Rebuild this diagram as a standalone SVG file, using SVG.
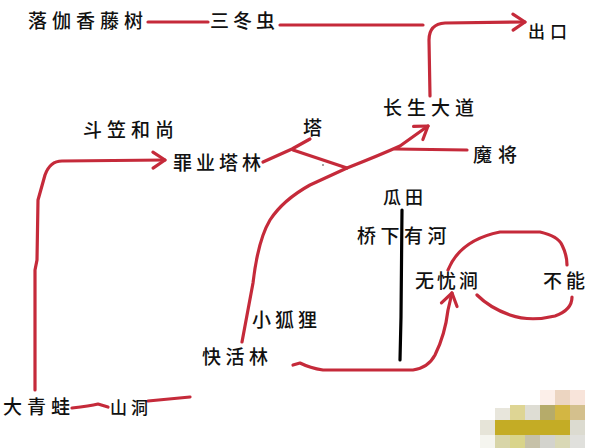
<svg xmlns="http://www.w3.org/2000/svg" width="609" height="448" viewBox="0 0 609 448">
<style>
text{font-family:"Noto Sans CJK SC","Noto Sans CJK JP",sans-serif;font-size:19px;font-weight:500;fill:#111;}
.c path{fill:none;stroke:#c52a3a;stroke-width:3.2;stroke-linecap:round;stroke-linejoin:round;}
.c path.k{stroke:#000;}
.m rect{stroke:none;}
</style>
<defs>
<marker id="ah" markerUnits="userSpaceOnUse" markerWidth="30" markerHeight="30" viewBox="-15 -15 30 30" refX="0" refY="0" orient="auto">
<path d="M-12,-8 L0,0 L-12,8" fill="none" stroke="#c52a3a" stroke-width="3.2" stroke-linecap="round" stroke-linejoin="round"/>
</marker>
</defs>
<g class="c" id="connectors">
<path d="M148,22 L208,22"/>
<path d="M280,25 L423,25"/>
<path d="M430,96 L429,40 Q429,24 445,23 L525,22" marker-end="url(#ah)"/>
<path d="M35,390 L35,270 L37,260 L38,200 L45,175 Q50,161 62,161 L165,160" marker-end="url(#ah)"/>
<path d="M72,408 Q90,406 98,404 L108,407"/>
<path d="M148,401 L190,397"/>
<path d="M242,342 L253,283 Q258,240 270,220 Q283,200 310,185 L347,168 Q380,155 400,146 L428,126" marker-end="url(#ah)"/>
<path d="M467,150 L395,149"/>
<path d="M263,162 L292,149 L310,139"/>
<path d="M293,150 L347,168"/>
<path d="M293,365 L300,363 Q310,368 323,370 L413,370 Q428,368 435,355 Q445,335 448,310 L452,293" marker-end="url(#ah)"/>
<path d="M448,270 Q460,240 500,232 L540,232 Q558,236 562,245 Q567,255 567,265"/>
<path d="M477,295 Q490,308 510,315 Q530,322 555,316 Q572,310 572,297"/>
<path class="k" d="M402,210 L401,317 L400,360"/>
</g>
<circle cx="323" cy="165" r="1" fill="#888"/>
<g id="n-luojia"><text x="28" y="28" letter-spacing="5">落伽香藤树</text></g>
<g id="n-sandong"><text x="210" y="28" letter-spacing="4">三冬虫</text></g>
<g id="n-chukou"><text x="528" y="38" style="font-size:17px" letter-spacing="5">出口</text></g>
<g id="n-changsheng"><text x="383" y="115" letter-spacing="5">长生大道</text></g>
<g id="n-mojiang"><text x="473" y="162" letter-spacing="6">魔将</text></g>
<g id="n-ta"><text x="303" y="135">塔</text></g>
<g id="n-zuiye"><text x="173" y="170" letter-spacing="4">罪业塔林</text></g>
<g id="n-douli"><text x="83" y="137" letter-spacing="5">斗笠和尚</text></g>
<g id="n-guatian"><text x="383" y="204" style="font-size:18px" letter-spacing="4">瓜田</text></g>
<g id="n-qiaoxia"><text x="357" y="243" letter-spacing="4.5">桥下有河</text></g>
<g id="n-wuyou"><text x="415" y="288" letter-spacing="3">无忧涧</text></g>
<g id="n-buneng"><text x="543" y="288" letter-spacing="4">不能</text></g>
<g id="n-xiaohu"><text x="252" y="327" letter-spacing="4">小狐狸</text></g>
<g id="n-kuaihuo"><text x="202" y="364" letter-spacing="4.5">快活林</text></g>
<g id="n-daqing"><text x="3" y="414" letter-spacing="5">大青蛙</text></g>
<g id="n-shandong"><text x="110" y="414" style="font-size:17px" letter-spacing="4">山洞</text></g>
<g class="m" id="mosaic">
<rect x="540" y="390" width="15" height="15" fill="#fcefe9"/>
<rect x="555" y="390" width="15" height="15" fill="#ecd5c1"/>
<rect x="570" y="390" width="15" height="15" fill="#f8e4da"/>
<rect x="495" y="408" width="15" height="12" fill="#e8e6dc"/>
<rect x="510" y="405" width="15" height="15" fill="#ded594"/>
<rect x="525" y="405" width="15" height="15" fill="#deddd4"/>
<rect x="540" y="405" width="15" height="15" fill="#b6ab6a"/>
<rect x="555" y="405" width="15" height="15" fill="#d3b643"/>
<rect x="570" y="405" width="15" height="15" fill="#d4c08d"/>
<rect x="480" y="420" width="15" height="15" fill="#e6e4d8"/>
<rect x="495" y="420" width="75" height="15" fill="#c4ac25"/>
<rect x="570" y="420" width="15" height="15" fill="#dcdbd0"/>
<rect x="480" y="435" width="15" height="13" fill="#f5f5ef"/>
<rect x="495" y="435" width="15" height="13" fill="#d8d5a8"/>
<rect x="510" y="435" width="15" height="13" fill="#d9d48a"/>
<rect x="525" y="435" width="15" height="13" fill="#c6c1a8"/>
<rect x="540" y="435" width="15" height="13" fill="#d3d3cd"/>
<rect x="555" y="435" width="15" height="13" fill="#d9d8b5"/>
<rect x="570" y="435" width="15" height="13" fill="#e0e0dc"/>
</g>
</svg>
